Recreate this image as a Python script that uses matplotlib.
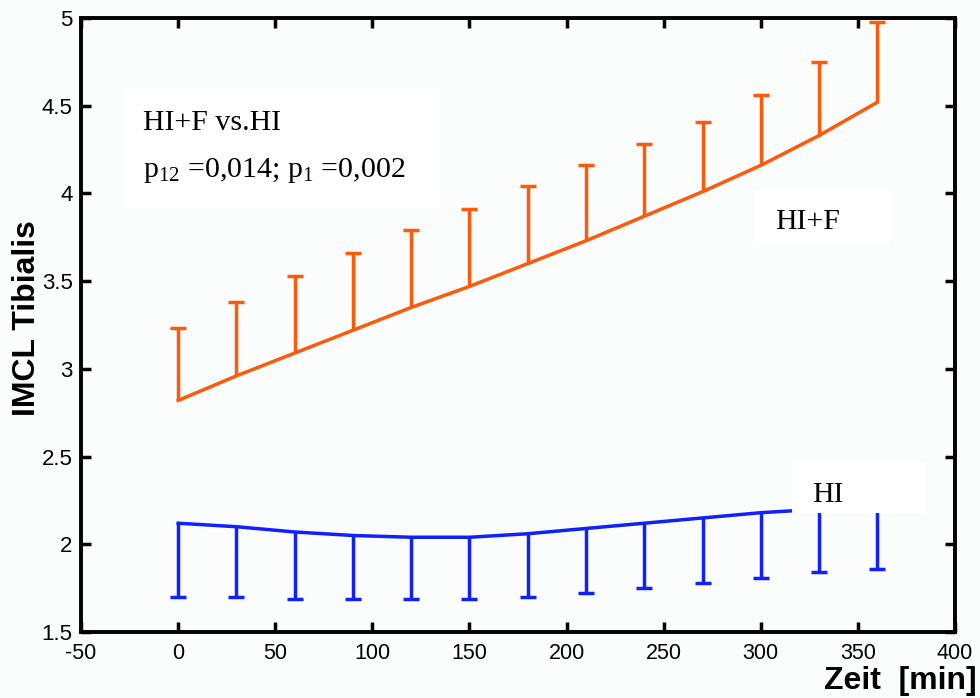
import numpy as np
import matplotlib
matplotlib.use("Agg")
import matplotlib.pyplot as plt
from matplotlib.patches import Rectangle

plt.rcParams['axes.unicode_minus'] = False

zeit = [0, 30, 60, 90, 120, 150, 180, 210, 240, 270, 300, 330, 360]

hif_mittel = [2.82, 2.96, 3.09, 3.22, 3.35, 3.47, 3.60, 3.73, 3.87, 4.01, 4.16, 4.33, 4.52]
hif_oben = [3.23, 3.38, 3.53, 3.66, 3.79, 3.91, 4.04, 4.16, 4.28, 4.41, 4.56, 4.75, 4.98]

hi_mittel = [2.12, 2.10, 2.07, 2.05, 2.04, 2.04, 2.06, 2.09, 2.12, 2.15, 2.18, 2.20, 2.22]
hi_unten = [1.70, 1.70, 1.69, 1.69, 1.69, 1.69, 1.70, 1.72, 1.75, 1.78, 1.81, 1.84, 1.86]

x_ticks = [-50, 0, 50, 100, 150, 200, 250, 300, 350, 400]
y_ticks = [1.5, 2, 2.5, 3, 3.5, 4, 4.5, 5]

orange = '#ff5a0a'
blau = '#1020ff'
bg = '#fbfdfd'

fig = plt.figure(figsize=(9.8, 6.98), dpi=100, facecolor=bg)
ax = fig.add_axes([0.0827, 0.0946, 0.8918, 0.8796], facecolor=bg)

z = np.array(zeit)
m1 = np.array(hif_mittel)
m2 = np.array(hi_mittel)

e1 = ax.errorbar(z, m1, yerr=[np.zeros_like(m1), np.array(hif_oben) - m1],
                 color=orange, lw=2.5, elinewidth=2.5, capsize=6, capthick=2.5, zorder=2)
e1[1][0].set_visible(False)
e2 = ax.errorbar(z, m2, yerr=[m2 - np.array(hi_unten), np.zeros_like(m2)],
                 color=blau, lw=2.5, elinewidth=2.5, capsize=6, capthick=2.5, zorder=2)
e2[1][1].set_visible(False)

# weisse Textkaesten
for (x0, y0, x1, y1) in [(-27.3, 3.917, 135, 4.60), (297, 3.72, 366.6, 4.02), (316, 2.178, 384.7, 2.469)]:
    ax.add_patch(Rectangle((x0, y0), x1 - x0, y1 - y0, facecolor='white', edgecolor='none', zorder=4))

serif = ['Liberation Serif', 'DejaVu Serif']
ax.text(-18, 4.361, 'HI+F vs.HI', family=serif, fontsize=21.5, zorder=5)
ax.text(-18, 4.093, r'p$\mathregular{_{12}}$ =0,014; p$\mathregular{_{1}}$ =0,002', family=serif, fontsize=21.5, zorder=5)
ax.text(307.4, 3.795, 'HI+F', family=serif, fontsize=21.5, zorder=5)
ax.text(326.5, 2.24, 'HI', family=serif, fontsize=21.5, zorder=5)

ax.set_xlim(-50, 400)
ax.set_ylim(1.5, 5)
ax.set_xticks(x_ticks)
ax.set_yticks(y_ticks)
ax.set_yticklabels(['1.5', '2', '2.5', '3', '3.5', '4', '4.5', '5'])
ax.tick_params(direction='in', length=7, width=2.5, top=True, right=True)
ax.tick_params(axis='x', labelsize=15.5, pad=8)
ax.tick_params(axis='y', labelsize=16, pad=6)
for lab in ax.get_xticklabels() + ax.get_yticklabels():
    lab.set_family(['Liberation Sans', 'DejaVu Sans'])
for s in ax.spines.values():
    s.set_linewidth(2.8)

fig.text(0.028, 0.545, 'IMCL Tibialis', rotation=90, fontsize=23, fontweight='bold',
         family=['Liberation Sans', 'DejaVu Sans'], ha='center', va='center')
fig.text(0.997, 0.003, 'Zeit  [min]', fontsize=23, fontweight='bold',
         family=['Liberation Sans', 'DejaVu Sans'], ha='right', va='bottom')

fig.savefig('out.png', dpi=100, facecolor=bg)
